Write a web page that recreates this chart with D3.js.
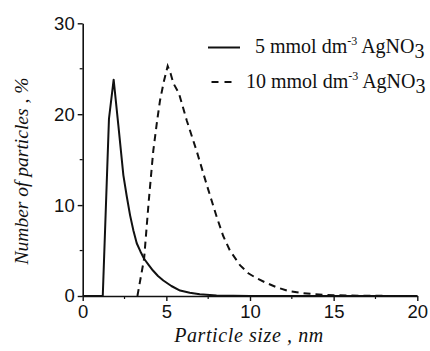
<!DOCTYPE html>
<html>
<head>
<meta charset="utf-8">
<script src="https://cdn.jsdelivr.net/npm/d3@7"></script>
<style>
  html, body { margin: 0; padding: 0; background: #fff; }
  svg { display: block; }
</style>
</head>
<body>
<svg id="chart" width="430" height="351"></svg>
<script>
// Particle size distributions for two AgNO3 concentrations
const sizes5  = [0, 1.2, 1.57, 1.85, 2.13, 2.43, 2.63, 2.83, 3.03, 3.23, 3.45, 3.67, 3.95, 4.2, 4.5, 4.82, 5.3, 5.82, 6.4, 7.0, 8.0, 10, 20];
const pct5    = [0, 0, 19.5, 23.8, 18.8, 13.3, 11.0, 8.9, 7.2, 5.8, 4.9, 4.1, 3.4, 2.8, 2.2, 1.7, 1.1, 0.6, 0.35, 0.2, 0.06, 0, 0];

const sizes10 = [3.27, 3.67, 3.95, 4.22, 4.45, 4.62, 4.85, 5.08, 5.25, 5.42, 5.75, 6.22, 6.82, 7.42, 8.01, 8.4, 8.8, 9.4, 9.9, 10.4, 10.9, 11.6, 12.3, 13.1, 13.9, 15, 17, 20];
const pct10   = [0, 4.1, 10.5, 16.0, 19.3, 21.5, 23.6, 25.3, 24.5, 23.4, 22.3, 19.3, 15.9, 12.2, 8.7, 6.6, 5.0, 3.4, 2.5, 1.95, 1.5, 0.95, 0.55, 0.33, 0.19, 0.08, 0.02, 0];

const xTicks = [0, 5, 10, 15, 20];
const yTicks = [0, 10, 20, 30];
const xMinor = [2.5, 7.5, 12.5, 17.5];
const yMinor = [5, 15, 25];

const seriesLabels = ["5", "10"];

const svg = d3.select("#chart");
const x = d3.scaleLinear().domain([0, 20]).range([82.7, 417.3]);
const y = d3.scaleLinear().domain([0, 30]).range([296, 23.3]);

const tickFont = "Liberation Sans, Arial, sans-serif";
const serif = "Liberation Serif, Times New Roman, serif";

// Axes with major labelled ticks
const xAxis = svg.append("g")
  .attr("transform", `translate(0,${y(0)})`)
  .call(d3.axisBottom(x).tickValues(xTicks).tickSize(5).tickPadding(4).tickSizeOuter(0));
const yAxis = svg.append("g")
  .attr("transform", `translate(${x(0)},0)`)
  .call(d3.axisLeft(y).tickValues(yTicks).tickSize(5).tickPadding(3).tickSizeOuter(0));

[xAxis, yAxis].forEach(g => {
  g.select(".domain").attr("stroke", "#111").attr("stroke-width", 1.6);
  g.selectAll(".tick line").attr("stroke", "#111").attr("stroke-width", 1.4);
  g.selectAll(".tick text")
    .attr("fill", "#111")
    .style("font-family", tickFont)
    .style("font-size", "18.5px");
});

// Minor ticks
xAxis.selectAll(".minor").data(xMinor).enter().append("line")
  .attr("x1", d => x(d)).attr("x2", d => x(d))
  .attr("y1", 0).attr("y2", 3)
  .attr("stroke", "#111").attr("stroke-width", 1.2);
yAxis.selectAll(".minor").data(yMinor).enter().append("line")
  .attr("y1", d => y(d)).attr("y2", d => y(d))
  .attr("x1", 0).attr("x2", -3)
  .attr("stroke", "#111").attr("stroke-width", 1.2);

// Curves
const line = d3.line()
  .x(d => x(d[0]))
  .y(d => y(d[1]));

svg.append("path")
  .datum(d3.zip(sizes5, pct5))
  .attr("d", line)
  .attr("fill", "none")
  .attr("stroke", "#111")
  .attr("stroke-width", 2)
  .attr("stroke-linejoin", "round");

svg.append("path")
  .datum(d3.zip(sizes10, pct10))
  .attr("d", line)
  .attr("fill", "none")
  .attr("stroke", "#111")
  .attr("stroke-width", 2)
  .attr("stroke-dasharray", "7,5");

// Axis titles
svg.append("text")
  .attr("x", x(10) - 1)
  .attr("y", 342)
  .attr("text-anchor", "middle")
  .style("font-family", serif)
  .style("font-style", "italic")
  .style("font-size", "20px")
  .style("letter-spacing", "0.6px")
  .attr("fill", "#111")
  .text("Particle size , nm");

svg.append("text")
  .attr("transform", `translate(28,171) rotate(-90)`)
  .attr("text-anchor", "middle")
  .style("font-family", serif)
  .style("font-style", "italic")
  .style("font-size", "19.5px")
  .attr("fill", "#111")
  .text("Number of particles , %");

// Legend
const legend = svg.append("g");
const legendRows = [
  { label: seriesLabels[0], dash: null, x1: 208, x2: 240, ly: 47.5, tx: 255, ty: 53 },
  { label: seriesLabels[1], dash: "7,6", x1: 211.5, x2: 232, ly: 82, tx: 246, ty: 88 }
];
legendRows.forEach(r => {
  legend.append("line")
    .attr("x1", r.x1).attr("x2", r.x2)
    .attr("y1", r.ly).attr("y2", r.ly)
    .attr("stroke", "#111").attr("stroke-width", 2)
    .attr("stroke-dasharray", r.dash);
  const t = legend.append("text")
    .attr("x", r.tx).attr("y", r.ty)
    .style("font-family", serif)
    .style("font-size", "20px")
    .attr("fill", "#111");
  t.append("tspan").text(`${r.label} mmol dm`);
  t.append("tspan").attr("dy", -8).style("font-size", "12px").text("-3");
  t.append("tspan").attr("dy", 8).text(" AgNO");
  t.append("tspan").attr("dy", 5).style("font-size", "20px").text("3");
});
</script>
</body>
</html>
